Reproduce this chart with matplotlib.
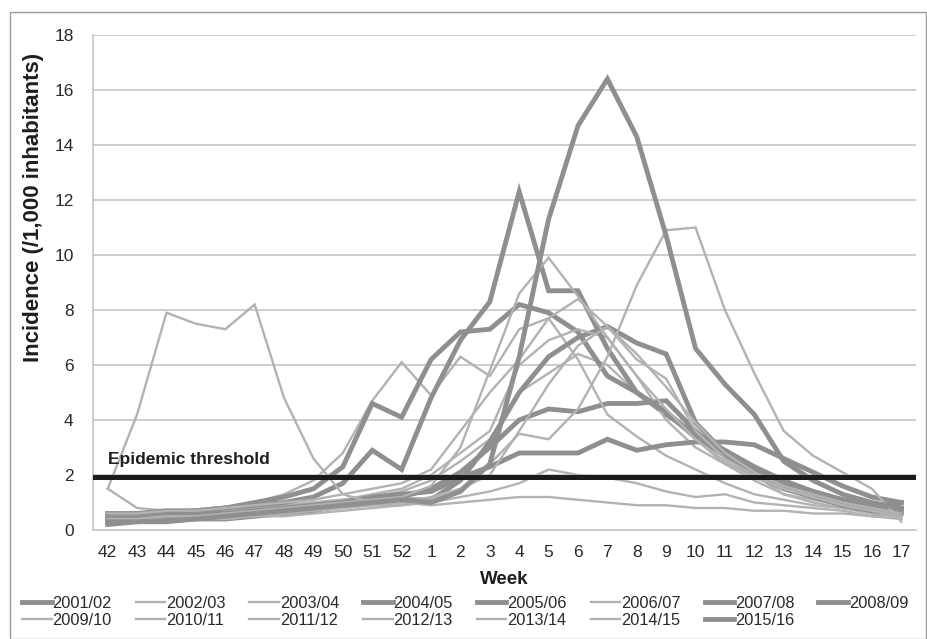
import numpy as np
import matplotlib
matplotlib.use("Agg")
from matplotlib import pyplot as plt, font_manager
from matplotlib.patches import Rectangle

# weeks of the season (x categories)
weeks = [42, 43, 44, 45, 46, 47, 48, 49, 50, 51, 52,
         1, 2, 3, 4, 5, 6, 7, 8, 9, 10, 11, 12, 13, 14, 15, 16, 17]

seasons = ["2001/02", "2002/03", "2003/04", "2004/05", "2005/06", "2006/07", "2007/08", "2008/09",
           "2009/10", "2010/11", "2011/12", "2012/13", "2013/14", "2014/15", "2015/16"]
thick_seasons = ["2001/02", "2004/05", "2005/06", "2007/08", "2008/09", "2015/16"]

inc_2001_02 = [0.2, 0.3, 0.3, 0.4, 0.4, 0.5, 0.6, 0.7, 0.9, 1.0, 1.2, 1.5, 2.1, 3.0, 4.0, 4.4,
               4.3, 4.6, 4.6, 4.7, 3.6, 2.7, 2.2, 1.7, 1.4, 1.1, 0.9, 0.8]
inc_2002_03 = [1.5, 0.8, 0.7, 0.7, 0.7, 0.8, 0.9, 1.0, 1.1, 1.2, 1.4, 1.8, 2.5, 3.3, 5.0, 5.7,
               6.4, 6.0, 5.0, 4.2, 3.3, 2.4, 1.8, 1.3, 1.0, 0.8, 0.6, 0.4]
inc_2003_04 = [0.5, 0.5, 0.6, 0.7, 0.8, 1.0, 1.3, 1.8, 2.8, 4.7, 6.1, 4.9, 6.3, 5.6, 7.3, 7.7,
               6.2, 4.2, 3.4, 2.7, 2.2, 1.7, 1.3, 1.1, 0.9, 0.8, 0.6, 0.5]
inc_2004_05 = [0.6, 0.6, 0.7, 0.7, 0.8, 1.0, 1.2, 1.5, 2.3, 4.6, 4.1, 6.2, 7.2, 7.3, 8.2, 7.9,
               7.2, 5.6, 5.0, 4.2, 3.5, 2.9, 2.3, 1.8, 1.4, 1.1, 0.9, 0.7]
inc_2005_06 = [0.3, 0.4, 0.4, 0.5, 0.5, 0.6, 0.7, 0.8, 0.9, 1.0, 1.1, 1.1, 1.8, 3.2, 5.0, 6.3,
               7.0, 7.4, 6.8, 6.4, 3.9, 2.8, 2.1, 1.6, 1.3, 1.1, 0.9, 1.0]
inc_2006_07 = [0.5, 0.5, 0.6, 0.6, 0.7, 0.8, 0.9, 1.0, 1.1, 1.3, 1.5, 2.0, 2.8, 3.6, 6.0, 6.9,
               7.3, 7.0, 5.6, 4.0, 3.0, 2.4, 2.0, 1.3, 1.1, 0.9, 0.7, 0.6]
inc_2007_08 = [0.4, 0.5, 0.5, 0.6, 0.6, 0.7, 0.8, 0.9, 1.0, 1.2, 1.3, 1.4, 1.9, 2.3, 2.8, 2.8,
               2.8, 3.3, 2.9, 3.1, 3.2, 3.2, 3.1, 2.6, 2.1, 1.6, 1.2, 1.0]
inc_2008_09 = [0.5, 0.6, 0.6, 0.7, 0.8, 0.9, 1.0, 1.2, 1.7, 2.9, 2.2, 4.8, 6.9, 8.3, 12.3, 8.7,
               8.7, 6.6, 5.0, 4.3, 3.4, 2.7, 2.0, 1.5, 1.2, 0.9, 0.7, 0.6]
inc_2009_10 = [1.5, 4.2, 7.9, 7.5, 7.3, 8.2, 4.8, 2.6, 1.3, 1.0, 1.0, 0.9, 1.0, 1.1, 1.2, 1.2,
               1.1, 1.0, 0.9, 0.9, 0.8, 0.8, 0.7, 0.7, 0.6, 0.6, 0.5, 0.5]
inc_2010_11 = [0.6, 0.6, 0.7, 0.7, 0.8, 0.9, 1.0, 1.1, 1.3, 1.5, 1.7, 2.2, 3.6, 5.0, 6.2, 7.7,
               8.4, 7.4, 6.4, 5.2, 3.9, 2.8, 2.1, 1.6, 1.3, 1.0, 0.8, 0.6]
inc_2011_12 = [0.3, 0.3, 0.3, 0.4, 0.4, 0.5, 0.5, 0.6, 0.7, 0.8, 0.9, 1.1, 1.5, 2.4, 3.5, 3.3,
               4.4, 6.3, 8.9, 10.9, 11.0, 8.0, 5.7, 3.6, 2.7, 2.1, 1.5, 0.3]
inc_2012_13 = [0.3, 0.4, 0.4, 0.5, 0.5, 0.6, 0.7, 0.7, 0.8, 0.9, 1.0, 1.2, 1.5, 2.0, 3.6, 5.3,
               6.7, 7.4, 6.2, 5.5, 3.6, 2.6, 2.0, 1.5, 1.2, 0.9, 0.7, 0.5]
inc_2013_14 = [0.4, 0.4, 0.5, 0.5, 0.6, 0.7, 0.8, 0.9, 1.0, 1.1, 1.2, 1.6, 3.0, 5.8, 8.6, 9.9,
               8.5, 7.0, 5.6, 4.4, 3.3, 2.5, 1.9, 1.5, 1.2, 0.9, 0.7, 0.5]
inc_2014_15 = [0.3, 0.3, 0.4, 0.4, 0.5, 0.5, 0.6, 0.7, 0.8, 0.9, 0.9, 1.0, 1.2, 1.4, 1.7, 2.2,
               2.0, 1.9, 1.7, 1.4, 1.2, 1.3, 1.0, 0.9, 0.8, 0.7, 0.5, 0.4]
inc_2015_16 = [0.3, 0.3, 0.35, 0.4, 0.5, 0.6, 0.7, 0.8, 0.9, 1.0, 1.1, 1.0, 1.4, 2.4, 6.3, 11.3,
               14.7, 16.4, 14.3, 10.7, 6.6, 5.3, 4.2, 2.5, 1.8, 1.3, 1.0, 0.8]

series = [inc_2001_02, inc_2002_03, inc_2003_04, inc_2004_05, inc_2005_06, inc_2006_07,
          inc_2007_08, inc_2008_09, inc_2009_10, inc_2010_11, inc_2011_12, inc_2012_13,
          inc_2013_14, inc_2014_15, inc_2015_16]

epidemic_threshold = 1.93

names = {f.name for f in font_manager.fontManager.ttflist}
base_font = "Liberation Sans" if "Liberation Sans" in names else "DejaVu Sans"
narrow_font = "Liberation Sans Narrow" if "Liberation Sans Narrow" in names else base_font
plt.rcParams["font.family"] = [base_font, "DejaVu Sans"]

thick_color = "#8e8f91"
thin_color = "#b1b2b4"
grid_color = "#c9c9c9"

W, H = 927, 639
fig = plt.figure(figsize=(W / 100, H / 100), dpi=100)
ax = fig.add_axes([93 / W, 1 - 530 / H, (916 - 93) / W, (530 - 35) / H])

x = np.arange(len(weeks))
handles = []
for name, values in zip(seasons, series):
    if name in thick_seasons:
        line, = ax.plot(x, values, color=thick_color, lw=3.5, solid_joinstyle="miter", label=name)
    else:
        line, = ax.plot(x, values, color=thin_color, lw=1.7, solid_joinstyle="miter", label=name)
    handles.append(line)

ax.axhline(epidemic_threshold, color="#1b1b1b", lw=3.6, zorder=5)
ax.text(0.0, epidemic_threshold + 0.35, "Epidemic threshold", fontsize=12.5, fontweight="bold",
        color="#1e1e1e", va="bottom", ha="left")

ax.set_xlim(-0.5, len(weeks) - 0.5)
ax.set_ylim(0, 18)
ax.set_yticks(np.arange(0, 19, 2))
ax.set_xticks(x)
ax.set_xticklabels([str(w) for w in weeks])
ax.tick_params(axis="both", length=0, labelsize=12.5, colors="#2a2a2a")
ax.tick_params(axis="y", pad=14)
ax.tick_params(axis="x", pad=11)
ax.yaxis.grid(True, color=grid_color, lw=1.3)
ax.set_axisbelow(True)
for side in ["top", "right"]:
    ax.spines[side].set_visible(False)
for side in ["left", "bottom"]:
    ax.spines[side].set_color(grid_color)
    ax.spines[side].set_linewidth(1.3)

ax.set_xlabel("Week", fontsize=13.5, fontweight="bold", color="#1e1e1e", labelpad=8)
fig.text(34 / W, 1 - 207 / H, "Incidence (/1,000 inhabitants)", rotation=90, ha="center", va="center",
         fontsize=16, fontweight="bold", color="#1e1e1e")

# legend reads row by row: 2001/02 ... 2008/09, then 2009/10 ... 2015/16
ncol = 8
order = []
for c in range(ncol):
    for r in range(2):
        i = r * ncol + c
        if i < len(handles):
            order.append(i)
leg = fig.legend(handles=[handles[i] for i in order], ncol=ncol, loc="upper left",
                 bbox_to_anchor=(22 / W, 1 - 602 / H, (908 - 22) / W, 0.01), mode="expand",
                 frameon=False, handlelength=1.8, handletextpad=0.05, labelspacing=0.15,
                 borderaxespad=0, borderpad=0,
                 prop={"family": [narrow_font, "DejaVu Sans"], "size": 11.8})
for t in leg.get_texts():
    t.set_color("#2a2a2a")

fig.patches.append(Rectangle((10 / W, 0.5 / H), (W - 11) / W, (H - 12.5) / H, transform=fig.transFigure,
                             fill=False, edgecolor="#9a9a9a", lw=1.0))

fig.savefig("out.png", dpi=100)
